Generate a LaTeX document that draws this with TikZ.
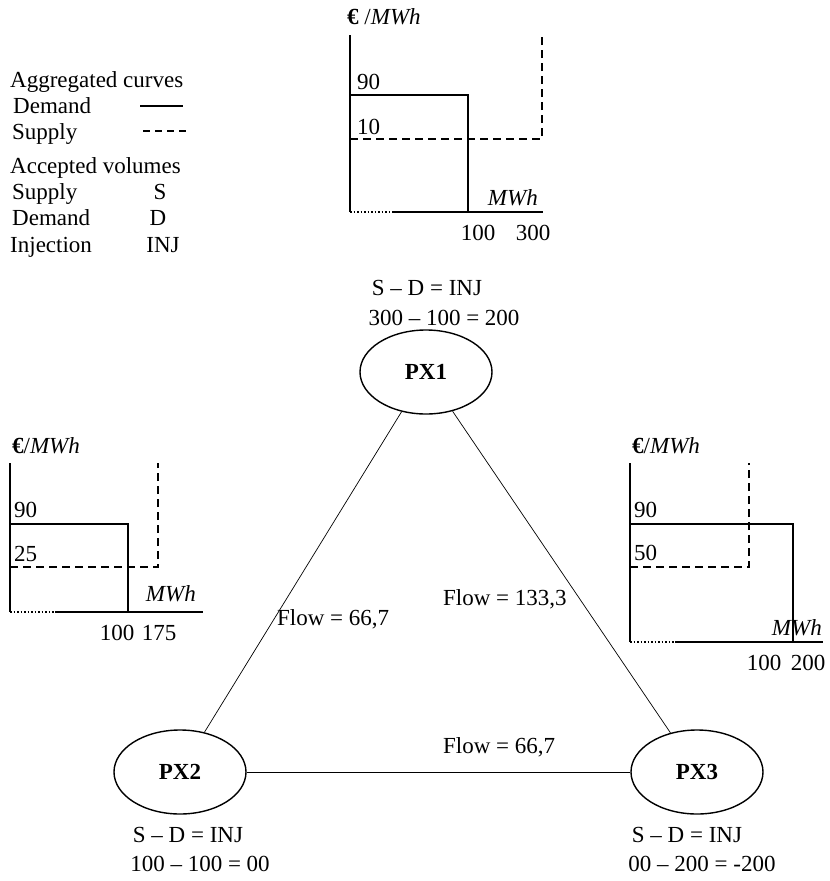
\documentclass[tikz,border=0pt]{standalone}
\usepackage{fontspec}
\setmainfont{Liberation Serif}
\usetikzlibrary{shapes.geometric}

\tikzset{
  axisline/.style={line width=2.2pt},
  demandline/.style={line width=2.2pt},
  supplyline/.style={line width=1.6pt,dash pattern=on 8pt off 5pt},
  lowline/.style={line width=1.5pt,dash pattern=on 1.5pt off 2pt},
  px/.style={ellipse,draw,line width=1.4pt,minimum width=132pt,minimum height=84pt,font=\bfseries},
  txt/.style={inner sep=0pt,anchor=base west},
  ctxt/.style={inner sep=0pt,anchor=base},
  flowline/.style={line width=0.7pt}
}

\begin{document}
\begin{tikzpicture}[x=1pt,y=-1pt]
  \fontsize{23}{28}\selectfont
  \useasboundingbox (0,0) rectangle (830,881);

  % legend
  \node[txt] (legcurves) at (10,87) {Aggregated curves};
  \node[txt] (legdem) at (13,113) {Demand};
  \node[txt] (legsup) at (12,139) {Supply};
  \draw[line width=1.6pt] (140,106) -- (183,106);
  \draw[line width=2.5pt,dash pattern=on 7pt off 5pt] (143,131) -- (190,131);
  \node[txt] (legvol) at (10,173) {Accepted volumes};
  \node[txt] (legsupv) at (12,199) {Supply};
  \node[txt] (legdemv) at (12,225) {Demand};
  \node[txt] (leginj) at (10,252) {Injection};
  \node[ctxt] (legS) at (160,199) {S};
  \node[ctxt] (legD) at (158,225) {D};
  \node[ctxt] (legINJ) at (163,252) {INJ};

  % curves PX1
  \node[txt] (unit1) at (347,24) {\textbf{€} /\textit{MWh}};
  \draw[axisline] (350,35) -- (350,212);
  \draw[demandline] (350,95) -- (468,95) -- (468,212);
  \draw[supplyline] (350,139) -- (542,139) -- (542,35);
  \draw[lowline] (350,212) -- (393,212);
  \draw[axisline] (393,212) -- (543,212);
  \node[txt] (p90a) at (357,89) {90};
  \node[txt] (p10a) at (357,134) {10};
  \node[inner sep=0pt,anchor=base east] (mwha) at (538,205) {\textit{MWh}};
  \node[ctxt] (q100a) at (478,240) {100};
  \node[ctxt] (q300a) at (533,240) {300};

  % curves PX2
  \node[txt] (unit2) at (12,453) {\textbf{€}/\textit{MWh}};
  \draw[axisline] (10,463) -- (10,612);
  \draw[demandline] (10,524) -- (128,524) -- (128,612);
  \draw[supplyline] (10,567) -- (158,567) -- (158,463);
  \draw[lowline] (10,612) -- (55,612);
  \draw[axisline] (55,612) -- (203,612);
  \node[txt] (p90b) at (14,517) {90};
  \node[txt] (p25b) at (14,561) {25};
  \node[inner sep=0pt,anchor=base east] (mwhb) at (196,601) {\textit{MWh}};
  \node[ctxt] (q100b) at (117,640) {100};
  \node[ctxt] (q175b) at (159,640) {175};

  % curves PX3
  \node[txt] (unit3) at (632,453) {\textbf{€}/\textit{MWh}};
  \draw[axisline] (630,463) -- (630,642);
  \draw[demandline] (630,524) -- (793,524) -- (793,642);
  \draw[supplyline] (630,567) -- (749,567) -- (749,463);
  \draw[lowline] (630,642) -- (675,642);
  \draw[axisline] (675,642) -- (823,642);
  \node[txt] (p90c) at (634,517) {90};
  \node[txt] (p50c) at (634,560) {50};
  \node[inner sep=0pt,anchor=base east] (mwhc) at (822,635) {\textit{MWh}};
  \node[ctxt] (q100c) at (764,670) {100};
  \node[ctxt] (q200c) at (808,670) {200};

  % exchanges
  \node[px] (px1) at (426,372) {PX1};
  \node[px] (px2) at (180,772) {PX2};
  \node[px] (px3) at (697,772) {PX3};
  \node[ctxt] (bal1) at (427,295) {S -- D = INJ};
  \node[ctxt] (num1) at (444,325) {300 -- 100 = 200};
  \node[ctxt] (bal2) at (188,842) {S -- D = INJ};
  \node[ctxt] (num2) at (200,871) {100 -- 100 = 00};
  \node[ctxt] (bal3) at (687,842) {S -- D = INJ};
  \node[ctxt] (num3) at (702,871) {00 -- 200 = -200};

  \draw[flowline] (px1) -- (px2);
  \draw[flowline] (px1) -- (px3);
  \draw[flowline] (px2) -- (px3);
  \node[txt] (flow12) at (277,625) {Flow = 66,7};
  \node[txt] (flow13) at (443,605) {Flow = 133,3};
  \node[txt] (flow23) at (443,753) {Flow = 66,7};
\end{tikzpicture}
\end{document}
